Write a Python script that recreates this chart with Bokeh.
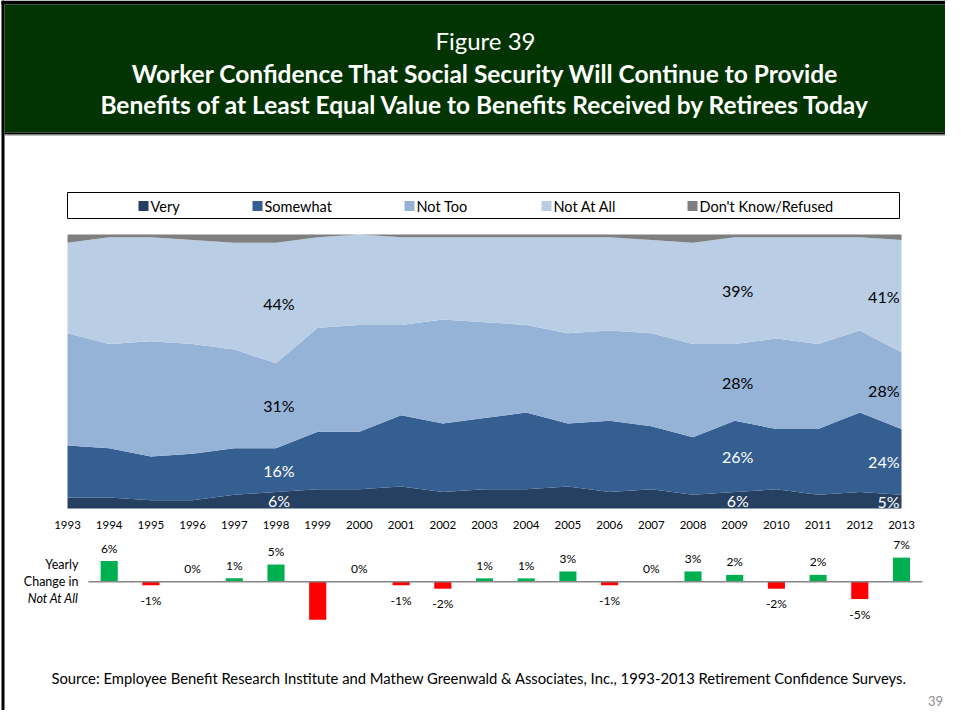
from bokeh.plotting import figure
from bokeh.models import Range1d, ColumnDataSource
from bokeh.core.properties import value
from bokeh.embed import file_html
from bokeh.resources import INLINE

# ---------------- data ----------------
years = list(range(1993, 2014))
year_labels = [str(y) for y in years]
very = [4, 4, 3, 3, 5, 6, 7, 7, 8, 6, 7, 7, 8, 6, 7, 5, 6, 7, 5, 6, 5]
somewhat = [19, 18, 16, 17, 17, 16, 21, 21, 26, 25, 26, 28, 23, 26, 23, 21, 26, 22, 24, 29, 24]
not_too = [41, 38, 42, 40, 36, 31, 38, 39, 33, 38, 35, 32, 33, 33, 34, 34, 28, 33, 31, 30, 28]
not_at_all = [33, 39, 38, 38, 39, 44, 33, 33, 32, 30, 31, 32, 35, 34, 34, 37, 39, 37, 39, 34, 41]
dont_know = [3, 1, 1, 2, 3, 3, 1, 0, 1, 1, 1, 1, 1, 1, 2, 3, 1, 1, 1, 1, 2]
change_years = years[1:]
change_not_at_all = [6, -1, 0, 1, 5, -11, 0, -1, -2, 1, 1, 3, -1, 0, 3, 2, -2, 2, -5, 7]
change_label_hidden = [1999]
series_names = ["Very", "Somewhat", "Not Too", "Not At All", "Don't Know/Refused"]
series_colors = ["#254061", "#365F91", "#95B3D7", "#B9CDE5", "#7F7F7F"]
series_label_colors = ["white", "white", "black", "black", None]
label_years = [1998, 2009, 2013]

title_lines = ["Figure 39",
               "Worker Confidence That Social Security Will Continue to Provide",
               "Benefits of at Least Equal Value to Benefits Received by Retirees Today"]
source_text = ("Source:  Employee Benefit Research Institute and Mathew Greenwald & Associates, Inc., "
               "1993-2013 Retirement Confidence Surveys.")
page_number = "39"

# ---------------- layout (pixels) ----------------
W, H = 945, 710
FONT = value("Lato")
X0_PX, PX_PER_YEAR = 67.0, 41.7          # first year position, spacing
PCT0_PX, PX_PER_PCT = 508.0, 2.74        # 0% baseline of area chart
CHG0_PX, PX_PER_CHG = 581.3, 3.45        # baseline of change bars


def rng_x(x0_px, per_px, v0):
    return Range1d(v0 - x0_px / per_px, v0 + (W - x0_px) / per_px)


def rng_y(y0_px, per_px):
    return Range1d(-(H - y0_px) / per_px, y0_px / per_px)


p = figure(width=W, height=H, output_backend="svg", toolbar_location=None,
           x_range=Range1d(0, W), y_range=Range1d(H, 0),
           x_axis_location=None, y_axis_location=None, min_border=0,
           outline_line_color=None, background_fill_color="white",
           border_fill_color="white")
p.grid.visible = False
p.extra_x_ranges = {"yr": rng_x(X0_PX, PX_PER_YEAR, years[0])}
p.extra_y_ranges = {"pct": rng_y(PCT0_PX, PX_PER_PCT), "chg": rng_y(CHG0_PX, PX_PER_CHG)}

# ---------------- slide frame + header ----------------
p.quad(left=1, right=W, top=0, bottom=4, fill_color="black", line_color=None)
p.quad(left=1, right=4, top=0, bottom=H, fill_color="black", line_color=None)
p.quad(left=4, right=W, top=4, bottom=132, fill_color="#023402", line_color=None)
p.quad(left=4, right=W, top=132, bottom=134, fill_color="black", line_color=None)
p.quad(left=4, right=W, top=134, bottom=135, fill_color="#808080", line_color=None)
p.text(x=[485], y=[40], text=[title_lines[0]], text_font=FONT, text_font_size="24px",
       text_color="white", text_align="center", text_baseline="middle")
p.text(x=[485, 485], y=[73, 104], text=title_lines[1:], text_font=FONT, text_font_size="24.5px",
       text_font_style="bold", text_color="white", text_align="center", text_baseline="middle")

# ---------------- legend ----------------
p.quad(left=67, right=899, top=192, bottom=218, fill_color=None, line_color="black", line_width=1)
leg_sq_x = [143, 257, 409, 546, 692]
for name, col, sx in zip(series_names, series_colors, leg_sq_x):
    p.rect(x=[sx], y=[205.5], width=10, height=10, fill_color=col, line_color=None)
    p.text(x=[sx + 7], y=[205.5], text=[name], text_font=FONT, text_font_size="14.5px",
           text_color="black", text_align="left", text_baseline="middle")

# ---------------- stacked area ----------------
src = ColumnDataSource(dict(year=years, very=very, somewhat=somewhat, not_too=not_too,
                            not_at_all=not_at_all, dont_know=dont_know))
p.varea_stack(stackers=["very", "somewhat", "not_too", "not_at_all", "dont_know"], x="year",
              color=series_colors, source=src, x_range_name="yr", y_range_name="pct")

series_vals = [very, somewhat, not_too, not_at_all, dont_know]
for ly in label_years:
    i = years.index(ly)
    cum = 0
    for k in range(4):
        v = series_vals[k][i]
        mid = cum + v / 2.0
        cum += v
        last = (ly == years[-1])
        p.text(x=[ly], y=[mid], text=[f"{v}%"], text_font=FONT, text_font_size="16px",
               text_color=series_label_colors[k], text_align="right" if last else "center",
               text_baseline="middle", x_offset=-2 if last else 3,
               x_range_name="yr", y_range_name="pct")

# year labels
p.text(x=years, y=[524] * len(years), text=year_labels, text_font=FONT, text_font_size="11.5px",
       text_color="black", text_align="center", text_baseline="middle", x_range_name="yr")

# ---------------- yearly change bars ----------------
bar_colors = ["#00B050" if v >= 0 else "#FF0000" for v in change_not_at_all]
bsrc = ColumnDataSource(dict(year=change_years, chg=change_not_at_all, color=bar_colors))
p.vbar(x="year", top="chg", bottom=0, width=0.41, fill_color="color", line_color=None,
       source=bsrc, x_range_name="yr", y_range_name="chg")
p.segment(x0=[years[0] + 0.5], x1=[years[-1] + 0.5], y0=[0], y1=[0], line_color="#868686",
          line_width=1.5, x_range_name="yr", y_range_name="chg")

pos_y, pos_t, neg_y, neg_t, pos_x, neg_x = [], [], [], [], [], []
for yv, v in zip(change_years, change_not_at_all):
    if yv in change_label_hidden:
        continue
    if v >= 0:
        pos_x.append(yv); pos_y.append(v); pos_t.append(f"{v}%")
    else:
        neg_x.append(yv); neg_y.append(v); neg_t.append(f"{v}%")
p.text(x=pos_x, y=pos_y, text=pos_t, text_font=FONT, text_font_size="12px", text_color="black",
       text_align="center", text_baseline="middle", y_offset=-13,
       x_range_name="yr", y_range_name="chg")
p.text(x=neg_x, y=neg_y, text=neg_t, text_font=FONT, text_font_size="12px", text_color="black",
       text_align="center", text_baseline="middle", y_offset=15,
       x_range_name="yr", y_range_name="chg")

p.text(x=[78, 78], y=[564.3, 581], text=["Yearly", "Change in"], text_font=FONT,
       text_font_size="12.5px", text_color="black", text_align="right", text_baseline="middle")
p.text(x=[78], y=[598.3], text=["Not At All"], text_font=FONT, text_font_size="12.5px",
       text_font_style="italic", text_color="black", text_align="right", text_baseline="middle")

# ---------------- footer ----------------
p.text(x=[480.5], y=[677], text=[source_text], text_font=FONT, text_font_size="14.8px",
       text_color="black", text_align="center", text_baseline="middle")
p.text(x=[935], y=[700], text=[page_number], text_font=FONT, text_font_size="13px",
       text_color="#8C8C8C", text_align="center", text_baseline="middle")

open("out.html", "w").write(file_html(p, INLINE))
